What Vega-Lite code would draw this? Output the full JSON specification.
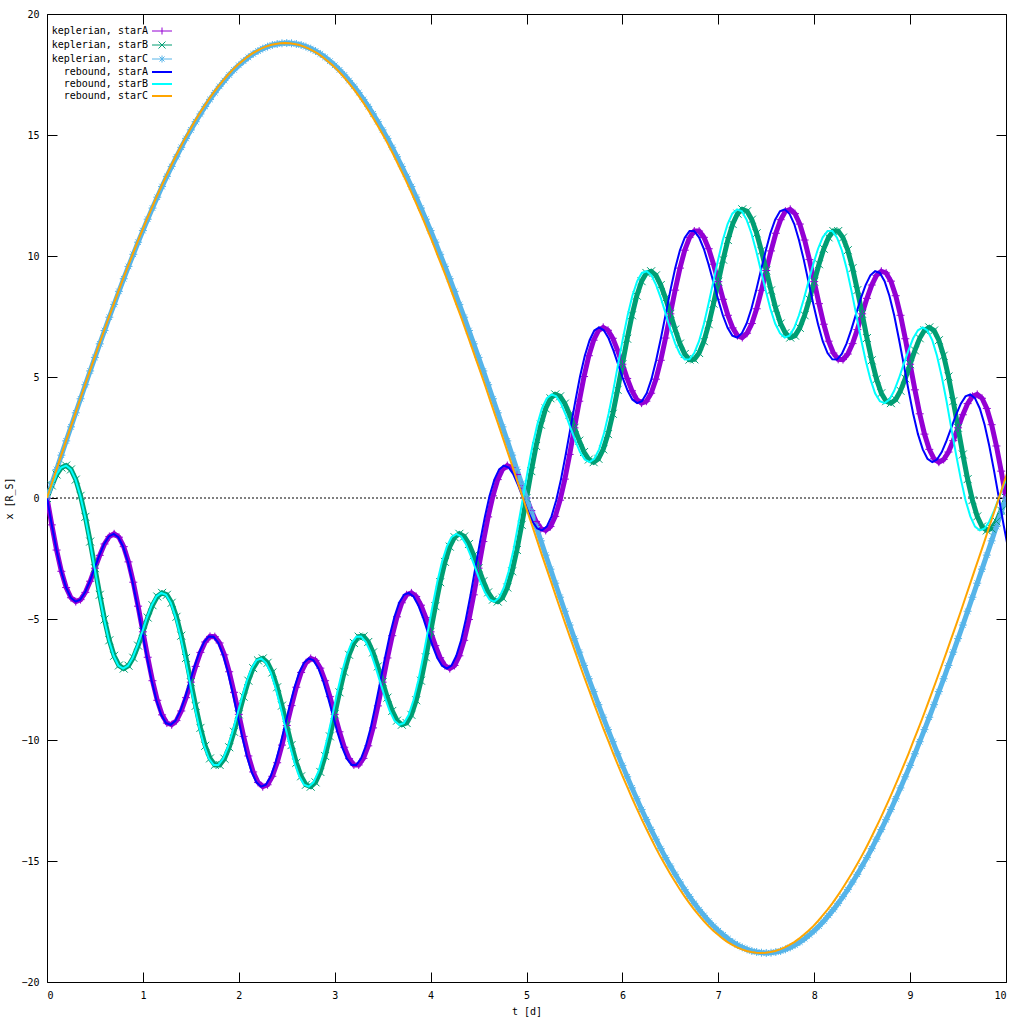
{
"$schema":"https://vega.github.io/schema/vega-lite/v6.json",
"width":959,"height":968,
"autosize":{"type":"none"},
"padding":{"left":47,"top":14,"right":18,"bottom":42},
"background":"white",
"config":{
"view":{"stroke":"black","strokeWidth":1},
"font":"DejaVu Sans Mono",
"axis":{"grid":false,"domain":false,"tickColor":"black","tickSize":-10,"tickWidth":1,"labelFont":"DejaVu Sans Mono","labelFontSize":10,"labelColor":"black","titleFont":"DejaVu Sans Mono","titleFontSize":10,"titleFontWeight":"normal","titleColor":"black","labelPadding":18},
"legend":{"orient":"none","legendX":110,"legendY":12,"padding":0,"title":null,"labelFont":"DejaVu Sans Mono","labelFontSize":10,"labelColor":"black","symbolSize":100,"rowPadding":2,"labelAlign":"right","labelOffset":-19,"labelLimit":0}
},
"data":{"values":[
{"t":0,"tr":0,"kA":0,"kB":0,"kC":0,"rA":0,"rB":0,"rC":0},
{"t":0.05,"tr":0.05,"kA":-1.11,"kB":0.52,"kC":0.59,"rA":-1.11,"rB":0.52,"rC":0.59},
{"t":0.1,"tr":0.099,"kA":-2.15,"kB":0.97,"kC":1.18,"rA":-2.15,"rB":0.97,"rC":1.18},
{"t":0.15,"tr":0.149,"kA":-3.03,"kB":1.26,"kC":1.77,"rA":-3.03,"rB":1.26,"rC":1.77},
{"t":0.2,"tr":0.199,"kA":-3.7,"kB":1.34,"kC":2.36,"rA":-3.7,"rB":1.34,"rC":2.36},
{"t":0.25,"tr":0.248,"kA":-4.12,"kB":1.18,"kC":2.94,"rA":-4.12,"rB":1.18,"rC":2.94},
{"t":0.3,"tr":0.298,"kA":-4.28,"kB":0.76,"kC":3.52,"rA":-4.28,"rB":0.76,"rC":3.52},
{"t":0.35,"tr":0.347,"kA":-4.2,"kB":0.09,"kC":4.1,"rA":-4.2,"rB":0.09,"rC":4.1},
{"t":0.4,"tr":0.397,"kA":-3.9,"kB":-0.78,"kC":4.68,"rA":-3.9,"rB":-0.78,"rC":4.68},
{"t":0.45,"tr":0.447,"kA":-3.44,"kB":-1.8,"kC":5.25,"rA":-3.44,"rB":-1.8,"rC":5.25},
{"t":0.5,"tr":0.496,"kA":-2.9,"kB":-2.9,"kC":5.81,"rA":-2.9,"rB":-2.9,"rC":5.81},
{"t":0.55,"tr":0.546,"kA":-2.37,"kB":-4,"kC":6.37,"rA":-2.37,"rB":-4,"rC":6.37},
{"t":0.6,"tr":0.596,"kA":-1.9,"kB":-5.02,"kC":6.92,"rA":-1.9,"rB":-5.02,"rC":6.92},
{"t":0.65,"tr":0.645,"kA":-1.59,"kB":-5.88,"kC":7.47,"rA":-1.59,"rB":-5.88,"rC":7.47},
{"t":0.7,"tr":0.695,"kA":-1.48,"kB":-6.52,"kC":8,"rA":-1.48,"rB":-6.52,"rC":8},
{"t":0.75,"tr":0.744,"kA":-1.62,"kB":-6.92,"kC":8.54,"rA":-1.62,"rB":-6.92,"rC":8.54},
{"t":0.8,"tr":0.794,"kA":-2.01,"kB":-7.05,"kC":9.06,"rA":-2.01,"rB":-7.05,"rC":9.06},
{"t":0.85,"tr":0.844,"kA":-2.64,"kB":-6.93,"kC":9.57,"rA":-2.64,"rB":-6.93,"rC":9.57},
{"t":0.9,"tr":0.893,"kA":-3.48,"kB":-6.6,"kC":10.07,"rA":-3.48,"rB":-6.6,"rC":10.07},
{"t":0.95,"tr":0.943,"kA":-4.47,"kB":-6.1,"kC":10.57,"rA":-4.47,"rB":-6.1,"rC":10.57},
{"t":1,"tr":0.993,"kA":-5.53,"kB":-5.53,"kC":11.05,"rA":-5.53,"rB":-5.53,"rC":11.05},
{"t":1.05,"tr":1.042,"kA":-6.58,"kB":-4.94,"kC":11.52,"rA":-6.58,"rB":-4.94,"rC":11.52},
{"t":1.1,"tr":1.092,"kA":-7.55,"kB":-4.43,"kC":11.98,"rA":-7.55,"rB":-4.43,"rC":11.98},
{"t":1.15,"tr":1.141,"kA":-8.36,"kB":-4.07,"kC":12.43,"rA":-8.36,"rB":-4.07,"rC":12.43},
{"t":1.2,"tr":1.191,"kA":-8.96,"kB":-3.92,"kC":12.87,"rA":-8.96,"rB":-3.92,"rC":12.87},
{"t":1.25,"tr":1.241,"kA":-9.3,"kB":-4,"kC":13.29,"rA":-9.3,"rB":-4,"rC":13.29},
{"t":1.3,"tr":1.29,"kA":-9.37,"kB":-4.33,"kC":13.7,"rA":-9.37,"rB":-4.33,"rC":13.7},
{"t":1.35,"tr":1.34,"kA":-9.2,"kB":-4.91,"kC":14.1,"rA":-9.2,"rB":-4.91,"rC":14.1},
{"t":1.4,"tr":1.39,"kA":-8.8,"kB":-5.69,"kC":14.49,"rA":-8.8,"rB":-5.69,"rC":14.49},
{"t":1.45,"tr":1.439,"kA":-8.25,"kB":-6.61,"kC":14.86,"rA":-8.25,"rB":-6.61,"rC":14.86},
{"t":1.5,"tr":1.489,"kA":-7.61,"kB":-7.61,"kC":15.21,"rA":-7.61,"rB":-7.61,"rC":15.21},
{"t":1.55,"tr":1.538,"kA":-6.96,"kB":-8.59,"kC":15.55,"rA":-6.96,"rB":-8.59,"rC":15.55},
{"t":1.6,"tr":1.588,"kA":-6.38,"kB":-9.5,"kC":15.87,"rA":-6.38,"rB":-9.5,"rC":15.87},
{"t":1.65,"tr":1.638,"kA":-5.95,"kB":-10.24,"kC":16.18,"rA":-5.95,"rB":-10.24,"rC":16.18},
{"t":1.7,"tr":1.687,"kA":-5.72,"kB":-10.76,"kC":16.47,"rA":-5.72,"rB":-10.76,"rC":16.47},
{"t":1.75,"tr":1.737,"kA":-5.73,"kB":-11.03,"kC":16.75,"rA":-5.73,"rB":-11.03,"rC":16.75},
{"t":1.8,"tr":1.787,"kA":-5.99,"kB":-11.03,"kC":17.01,"rA":-5.99,"rB":-11.03,"rC":17.01},
{"t":1.85,"tr":1.836,"kA":-6.48,"kB":-10.77,"kC":17.25,"rA":-6.48,"rB":-10.77,"rC":17.25},
{"t":1.9,"tr":1.886,"kA":-7.18,"kB":-10.3,"kC":17.48,"rA":-7.18,"rB":-10.3,"rC":17.48},
{"t":1.95,"tr":1.935,"kA":-8.03,"kB":-9.66,"kC":17.69,"rA":-8.03,"rB":-9.66,"rC":17.69},
{"t":2,"tr":1.985,"kA":-8.94,"kB":-8.94,"kC":17.88,"rA":-8.94,"rB":-8.94,"rC":17.88},
{"t":2.05,"tr":2.035,"kA":-9.85,"kB":-8.21,"kC":18.05,"rA":-9.85,"rB":-8.21,"rC":18.05},
{"t":2.1,"tr":2.084,"kA":-10.66,"kB":-7.55,"kC":18.21,"rA":-10.66,"rB":-7.55,"rC":18.21},
{"t":2.15,"tr":2.134,"kA":-11.32,"kB":-7.03,"kC":18.35,"rA":-11.32,"rB":-7.03,"rC":18.35},
{"t":2.2,"tr":2.184,"kA":-11.75,"kB":-6.71,"kC":18.47,"rA":-11.75,"rB":-6.71,"rC":18.47},
{"t":2.25,"tr":2.233,"kA":-11.93,"kB":-6.63,"kC":18.57,"rA":-11.93,"rB":-6.63,"rC":18.57},
{"t":2.3,"tr":2.283,"kA":-11.85,"kB":-6.81,"kC":18.65,"rA":-11.85,"rB":-6.81,"rC":18.65},
{"t":2.35,"tr":2.333,"kA":-11.5,"kB":-7.21,"kC":18.72,"rA":-11.5,"rB":-7.21,"rC":18.72},
{"t":2.4,"tr":2.382,"kA":-10.94,"kB":-7.82,"kC":18.76,"rA":-10.94,"rB":-7.82,"rC":18.76},
{"t":2.45,"tr":2.432,"kA":-10.21,"kB":-8.58,"kC":18.79,"rA":-10.21,"rB":-8.58,"rC":18.79},
{"t":2.5,"tr":2.481,"kA":-9.4,"kB":-9.4,"kC":18.8,"rA":-9.4,"rB":-9.4,"rC":18.8},
{"t":2.55,"tr":2.531,"kA":-8.58,"kB":-10.21,"kC":18.79,"rA":-8.58,"rB":-10.21,"rC":18.79},
{"t":2.6,"tr":2.581,"kA":-7.82,"kB":-10.94,"kC":18.76,"rA":-7.82,"rB":-10.94,"rC":18.76},
{"t":2.65,"tr":2.63,"kA":-7.21,"kB":-11.5,"kC":18.72,"rA":-7.21,"rB":-11.5,"rC":18.72},
{"t":2.7,"tr":2.68,"kA":-6.81,"kB":-11.85,"kC":18.65,"rA":-6.81,"rB":-11.85,"rC":18.65},
{"t":2.75,"tr":2.73,"kA":-6.63,"kB":-11.93,"kC":18.57,"rA":-6.63,"rB":-11.93,"rC":18.57},
{"t":2.8,"tr":2.779,"kA":-6.71,"kB":-11.75,"kC":18.47,"rA":-6.71,"rB":-11.75,"rC":18.47},
{"t":2.85,"tr":2.829,"kA":-7.03,"kB":-11.32,"kC":18.35,"rA":-7.03,"rB":-11.32,"rC":18.35},
{"t":2.9,"tr":2.878,"kA":-7.55,"kB":-10.66,"kC":18.21,"rA":-7.55,"rB":-10.66,"rC":18.21},
{"t":2.95,"tr":2.928,"kA":-8.21,"kB":-9.85,"kC":18.05,"rA":-8.21,"rB":-9.85,"rC":18.05},
{"t":3,"tr":2.978,"kA":-8.94,"kB":-8.94,"kC":17.88,"rA":-8.94,"rB":-8.94,"rC":17.88},
{"t":3.05,"tr":3.027,"kA":-9.66,"kB":-8.03,"kC":17.69,"rA":-9.66,"rB":-8.03,"rC":17.69},
{"t":3.1,"tr":3.077,"kA":-10.3,"kB":-7.18,"kC":17.48,"rA":-10.3,"rB":-7.18,"rC":17.48},
{"t":3.15,"tr":3.127,"kA":-10.77,"kB":-6.48,"kC":17.25,"rA":-10.77,"rB":-6.48,"rC":17.25},
{"t":3.2,"tr":3.176,"kA":-11.03,"kB":-5.99,"kC":17.01,"rA":-11.03,"rB":-5.99,"rC":17.01},
{"t":3.25,"tr":3.226,"kA":-11.03,"kB":-5.73,"kC":16.75,"rA":-11.03,"rB":-5.73,"rC":16.75},
{"t":3.3,"tr":3.275,"kA":-10.76,"kB":-5.72,"kC":16.47,"rA":-10.76,"rB":-5.72,"rC":16.47},
{"t":3.35,"tr":3.325,"kA":-10.24,"kB":-5.95,"kC":16.18,"rA":-10.24,"rB":-5.95,"rC":16.18},
{"t":3.4,"tr":3.375,"kA":-9.5,"kB":-6.38,"kC":15.87,"rA":-9.5,"rB":-6.38,"rC":15.87},
{"t":3.45,"tr":3.424,"kA":-8.59,"kB":-6.96,"kC":15.55,"rA":-8.59,"rB":-6.96,"rC":15.55},
{"t":3.5,"tr":3.474,"kA":-7.61,"kB":-7.61,"kC":15.21,"rA":-7.61,"rB":-7.61,"rC":15.21},
{"t":3.55,"tr":3.524,"kA":-6.61,"kB":-8.25,"kC":14.86,"rA":-6.61,"rB":-8.25,"rC":14.86},
{"t":3.6,"tr":3.573,"kA":-5.69,"kB":-8.8,"kC":14.49,"rA":-5.69,"rB":-8.8,"rC":14.49},
{"t":3.65,"tr":3.623,"kA":-4.91,"kB":-9.2,"kC":14.1,"rA":-4.91,"rB":-9.2,"rC":14.1},
{"t":3.7,"tr":3.672,"kA":-4.33,"kB":-9.37,"kC":13.7,"rA":-4.33,"rB":-9.37,"rC":13.7},
{"t":3.75,"tr":3.722,"kA":-4,"kB":-9.3,"kC":13.29,"rA":-4,"rB":-9.3,"rC":13.29},
{"t":3.8,"tr":3.772,"kA":-3.92,"kB":-8.96,"kC":12.87,"rA":-3.92,"rB":-8.96,"rC":12.87},
{"t":3.85,"tr":3.821,"kA":-4.07,"kB":-8.36,"kC":12.43,"rA":-4.07,"rB":-8.36,"rC":12.43},
{"t":3.9,"tr":3.871,"kA":-4.43,"kB":-7.55,"kC":11.98,"rA":-4.43,"rB":-7.55,"rC":11.98},
{"t":3.95,"tr":3.921,"kA":-4.94,"kB":-6.58,"kC":11.52,"rA":-4.94,"rB":-6.58,"rC":11.52},
{"t":4,"tr":3.97,"kA":-5.53,"kB":-5.53,"kC":11.05,"rA":-5.53,"rB":-5.53,"rC":11.05},
{"t":4.05,"tr":4.02,"kA":-6.1,"kB":-4.47,"kC":10.57,"rA":-6.1,"rB":-4.47,"rC":10.57},
{"t":4.1,"tr":4.069,"kA":-6.6,"kB":-3.48,"kC":10.07,"rA":-6.6,"rB":-3.48,"rC":10.07},
{"t":4.15,"tr":4.119,"kA":-6.93,"kB":-2.64,"kC":9.57,"rA":-6.93,"rB":-2.64,"rC":9.57},
{"t":4.2,"tr":4.169,"kA":-7.05,"kB":-2.01,"kC":9.06,"rA":-7.05,"rB":-2.01,"rC":9.06},
{"t":4.25,"tr":4.218,"kA":-6.92,"kB":-1.62,"kC":8.54,"rA":-6.92,"rB":-1.62,"rC":8.54},
{"t":4.3,"tr":4.268,"kA":-6.52,"kB":-1.48,"kC":8,"rA":-6.52,"rB":-1.48,"rC":8},
{"t":4.35,"tr":4.318,"kA":-5.88,"kB":-1.59,"kC":7.47,"rA":-5.88,"rB":-1.59,"rC":7.47},
{"t":4.4,"tr":4.367,"kA":-5.02,"kB":-1.9,"kC":6.92,"rA":-5.02,"rB":-1.9,"rC":6.92},
{"t":4.45,"tr":4.417,"kA":-4,"kB":-2.37,"kC":6.37,"rA":-4,"rB":-2.37,"rC":6.37},
{"t":4.5,"tr":4.466,"kA":-2.9,"kB":-2.9,"kC":5.81,"rA":-2.9,"rB":-2.9,"rC":5.81},
{"t":4.55,"tr":4.516,"kA":-1.8,"kB":-3.44,"kC":5.25,"rA":-1.8,"rB":-3.44,"rC":5.25},
{"t":4.6,"tr":4.566,"kA":-0.78,"kB":-3.9,"kC":4.68,"rA":-0.78,"rB":-3.9,"rC":4.68},
{"t":4.65,"tr":4.615,"kA":0.09,"kB":-4.2,"kC":4.1,"rA":0.09,"rB":-4.2,"rC":4.1},
{"t":4.7,"tr":4.665,"kA":0.76,"kB":-4.28,"kC":3.52,"rA":0.76,"rB":-4.28,"rC":3.52},
{"t":4.75,"tr":4.715,"kA":1.18,"kB":-4.12,"kC":2.94,"rA":1.18,"rB":-4.12,"rC":2.94},
{"t":4.8,"tr":4.764,"kA":1.34,"kB":-3.7,"kC":2.36,"rA":1.34,"rB":-3.7,"rC":2.36},
{"t":4.85,"tr":4.814,"kA":1.26,"kB":-3.03,"kC":1.77,"rA":1.26,"rB":-3.03,"rC":1.77},
{"t":4.9,"tr":4.864,"kA":0.97,"kB":-2.15,"kC":1.18,"rA":0.97,"rB":-2.15,"rC":1.18},
{"t":4.95,"tr":4.913,"kA":0.52,"kB":-1.11,"kC":0.59,"rA":0.52,"rB":-1.11,"rC":0.59},
{"t":5,"tr":4.963,"kA":0,"kB":0,"kC":0,"rA":0,"rB":0,"rC":0},
{"t":5.05,"tr":5.012,"kA":-0.52,"kB":1.11,"kC":-0.59,"rA":-0.52,"rB":1.11,"rC":-0.59},
{"t":5.1,"tr":5.062,"kA":-0.97,"kB":2.15,"kC":-1.18,"rA":-0.97,"rB":2.15,"rC":-1.18},
{"t":5.15,"tr":5.112,"kA":-1.26,"kB":3.03,"kC":-1.77,"rA":-1.26,"rB":3.03,"rC":-1.77},
{"t":5.2,"tr":5.161,"kA":-1.34,"kB":3.7,"kC":-2.36,"rA":-1.34,"rB":3.7,"rC":-2.36},
{"t":5.25,"tr":5.211,"kA":-1.18,"kB":4.12,"kC":-2.94,"rA":-1.18,"rB":4.12,"rC":-2.94},
{"t":5.3,"tr":5.261,"kA":-0.76,"kB":4.28,"kC":-3.52,"rA":-0.76,"rB":4.28,"rC":-3.52},
{"t":5.35,"tr":5.31,"kA":-0.09,"kB":4.2,"kC":-4.1,"rA":-0.09,"rB":4.2,"rC":-4.1},
{"t":5.4,"tr":5.36,"kA":0.78,"kB":3.9,"kC":-4.68,"rA":0.78,"rB":3.9,"rC":-4.68},
{"t":5.45,"tr":5.409,"kA":1.8,"kB":3.44,"kC":-5.25,"rA":1.8,"rB":3.44,"rC":-5.25},
{"t":5.5,"tr":5.459,"kA":2.9,"kB":2.9,"kC":-5.81,"rA":2.9,"rB":2.9,"rC":-5.81},
{"t":5.55,"tr":5.509,"kA":4,"kB":2.37,"kC":-6.37,"rA":4,"rB":2.37,"rC":-6.37},
{"t":5.6,"tr":5.558,"kA":5.02,"kB":1.9,"kC":-6.92,"rA":5.02,"rB":1.9,"rC":-6.92},
{"t":5.65,"tr":5.608,"kA":5.88,"kB":1.59,"kC":-7.47,"rA":5.88,"rB":1.59,"rC":-7.47},
{"t":5.7,"tr":5.658,"kA":6.52,"kB":1.48,"kC":-8,"rA":6.52,"rB":1.48,"rC":-8},
{"t":5.75,"tr":5.707,"kA":6.92,"kB":1.62,"kC":-8.54,"rA":6.92,"rB":1.62,"rC":-8.54},
{"t":5.8,"tr":5.757,"kA":7.05,"kB":2.01,"kC":-9.06,"rA":7.05,"rB":2.01,"rC":-9.06},
{"t":5.85,"tr":5.806,"kA":6.93,"kB":2.64,"kC":-9.57,"rA":6.93,"rB":2.64,"rC":-9.57},
{"t":5.9,"tr":5.856,"kA":6.6,"kB":3.48,"kC":-10.07,"rA":6.6,"rB":3.48,"rC":-10.07},
{"t":5.95,"tr":5.906,"kA":6.1,"kB":4.47,"kC":-10.57,"rA":6.1,"rB":4.47,"rC":-10.57},
{"t":6,"tr":5.955,"kA":5.53,"kB":5.53,"kC":-11.05,"rA":5.53,"rB":5.53,"rC":-11.05},
{"t":6.05,"tr":6.005,"kA":4.94,"kB":6.58,"kC":-11.52,"rA":4.94,"rB":6.58,"rC":-11.52},
{"t":6.1,"tr":6.055,"kA":4.43,"kB":7.55,"kC":-11.98,"rA":4.43,"rB":7.55,"rC":-11.98},
{"t":6.15,"tr":6.104,"kA":4.07,"kB":8.36,"kC":-12.43,"rA":4.07,"rB":8.36,"rC":-12.43},
{"t":6.2,"tr":6.154,"kA":3.92,"kB":8.96,"kC":-12.87,"rA":3.92,"rB":8.96,"rC":-12.87},
{"t":6.25,"tr":6.203,"kA":4,"kB":9.3,"kC":-13.29,"rA":4,"rB":9.3,"rC":-13.29},
{"t":6.3,"tr":6.253,"kA":4.33,"kB":9.37,"kC":-13.7,"rA":4.33,"rB":9.37,"rC":-13.7},
{"t":6.35,"tr":6.303,"kA":4.91,"kB":9.2,"kC":-14.1,"rA":4.91,"rB":9.2,"rC":-14.1},
{"t":6.4,"tr":6.352,"kA":5.69,"kB":8.8,"kC":-14.49,"rA":5.69,"rB":8.8,"rC":-14.49},
{"t":6.45,"tr":6.402,"kA":6.61,"kB":8.25,"kC":-14.86,"rA":6.61,"rB":8.25,"rC":-14.86},
{"t":6.5,"tr":6.452,"kA":7.61,"kB":7.61,"kC":-15.21,"rA":7.61,"rB":7.61,"rC":-15.21},
{"t":6.55,"tr":6.501,"kA":8.59,"kB":6.96,"kC":-15.55,"rA":8.59,"rB":6.96,"rC":-15.55},
{"t":6.6,"tr":6.551,"kA":9.5,"kB":6.38,"kC":-15.87,"rA":9.5,"rB":6.38,"rC":-15.87},
{"t":6.65,"tr":6.6,"kA":10.24,"kB":5.95,"kC":-16.18,"rA":10.24,"rB":5.95,"rC":-16.18},
{"t":6.7,"tr":6.65,"kA":10.76,"kB":5.72,"kC":-16.47,"rA":10.76,"rB":5.72,"rC":-16.47},
{"t":6.75,"tr":6.7,"kA":11.03,"kB":5.73,"kC":-16.75,"rA":11.03,"rB":5.73,"rC":-16.75},
{"t":6.8,"tr":6.749,"kA":11.03,"kB":5.99,"kC":-17.01,"rA":11.03,"rB":5.99,"rC":-17.01},
{"t":6.85,"tr":6.799,"kA":10.77,"kB":6.48,"kC":-17.25,"rA":10.77,"rB":6.48,"rC":-17.25},
{"t":6.9,"tr":6.849,"kA":10.3,"kB":7.18,"kC":-17.48,"rA":10.3,"rB":7.18,"rC":-17.48},
{"t":6.95,"tr":6.898,"kA":9.66,"kB":8.03,"kC":-17.69,"rA":9.66,"rB":8.03,"rC":-17.69},
{"t":7,"tr":6.948,"kA":8.94,"kB":8.94,"kC":-17.88,"rA":8.94,"rB":8.94,"rC":-17.88},
{"t":7.05,"tr":6.998,"kA":8.21,"kB":9.85,"kC":-18.05,"rA":8.21,"rB":9.85,"rC":-18.05},
{"t":7.1,"tr":7.047,"kA":7.55,"kB":10.66,"kC":-18.21,"rA":7.55,"rB":10.66,"rC":-18.21},
{"t":7.15,"tr":7.097,"kA":7.03,"kB":11.32,"kC":-18.35,"rA":7.03,"rB":11.32,"rC":-18.35},
{"t":7.2,"tr":7.146,"kA":6.71,"kB":11.75,"kC":-18.47,"rA":6.71,"rB":11.75,"rC":-18.47},
{"t":7.25,"tr":7.196,"kA":6.63,"kB":11.93,"kC":-18.57,"rA":6.63,"rB":11.93,"rC":-18.57},
{"t":7.3,"tr":7.246,"kA":6.81,"kB":11.85,"kC":-18.65,"rA":6.81,"rB":11.85,"rC":-18.65},
{"t":7.35,"tr":7.295,"kA":7.21,"kB":11.5,"kC":-18.72,"rA":7.21,"rB":11.5,"rC":-18.72},
{"t":7.4,"tr":7.345,"kA":7.82,"kB":10.94,"kC":-18.76,"rA":7.82,"rB":10.94,"rC":-18.76},
{"t":7.45,"tr":7.395,"kA":8.58,"kB":10.21,"kC":-18.79,"rA":8.58,"rB":10.21,"rC":-18.79},
{"t":7.5,"tr":7.444,"kA":9.4,"kB":9.4,"kC":-18.8,"rA":9.4,"rB":9.4,"rC":-18.8},
{"t":7.55,"tr":7.494,"kA":10.21,"kB":8.58,"kC":-18.79,"rA":10.21,"rB":8.58,"rC":-18.79},
{"t":7.6,"tr":7.543,"kA":10.94,"kB":7.82,"kC":-18.76,"rA":10.94,"rB":7.82,"rC":-18.76},
{"t":7.65,"tr":7.593,"kA":11.5,"kB":7.21,"kC":-18.72,"rA":11.5,"rB":7.21,"rC":-18.72},
{"t":7.7,"tr":7.643,"kA":11.85,"kB":6.81,"kC":-18.65,"rA":11.85,"rB":6.81,"rC":-18.65},
{"t":7.75,"tr":7.692,"kA":11.93,"kB":6.63,"kC":-18.57,"rA":11.93,"rB":6.63,"rC":-18.57},
{"t":7.8,"tr":7.742,"kA":11.75,"kB":6.71,"kC":-18.47,"rA":11.75,"rB":6.71,"rC":-18.47},
{"t":7.85,"tr":7.792,"kA":11.32,"kB":7.03,"kC":-18.35,"rA":11.32,"rB":7.03,"rC":-18.35},
{"t":7.9,"tr":7.841,"kA":10.66,"kB":7.55,"kC":-18.21,"rA":10.66,"rB":7.55,"rC":-18.21},
{"t":7.95,"tr":7.891,"kA":9.85,"kB":8.21,"kC":-18.05,"rA":9.85,"rB":8.21,"rC":-18.05},
{"t":8,"tr":7.94,"kA":8.94,"kB":8.94,"kC":-17.88,"rA":8.94,"rB":8.94,"rC":-17.88},
{"t":8.05,"tr":7.99,"kA":8.03,"kB":9.66,"kC":-17.69,"rA":8.03,"rB":9.66,"rC":-17.69},
{"t":8.1,"tr":8.04,"kA":7.18,"kB":10.3,"kC":-17.48,"rA":7.18,"rB":10.3,"rC":-17.48},
{"t":8.15,"tr":8.089,"kA":6.48,"kB":10.77,"kC":-17.25,"rA":6.48,"rB":10.77,"rC":-17.25},
{"t":8.2,"tr":8.139,"kA":5.99,"kB":11.03,"kC":-17.01,"rA":5.99,"rB":11.03,"rC":-17.01},
{"t":8.25,"tr":8.189,"kA":5.73,"kB":11.03,"kC":-16.75,"rA":5.73,"rB":11.03,"rC":-16.75},
{"t":8.3,"tr":8.238,"kA":5.72,"kB":10.76,"kC":-16.47,"rA":5.72,"rB":10.76,"rC":-16.47},
{"t":8.35,"tr":8.288,"kA":5.95,"kB":10.24,"kC":-16.18,"rA":5.95,"rB":10.24,"rC":-16.18},
{"t":8.4,"tr":8.337,"kA":6.38,"kB":9.5,"kC":-15.87,"rA":6.38,"rB":9.5,"rC":-15.87},
{"t":8.45,"tr":8.387,"kA":6.96,"kB":8.59,"kC":-15.55,"rA":6.96,"rB":8.59,"rC":-15.55},
{"t":8.5,"tr":8.437,"kA":7.61,"kB":7.61,"kC":-15.21,"rA":7.61,"rB":7.61,"rC":-15.21},
{"t":8.55,"tr":8.486,"kA":8.25,"kB":6.61,"kC":-14.86,"rA":8.25,"rB":6.61,"rC":-14.86},
{"t":8.6,"tr":8.536,"kA":8.8,"kB":5.69,"kC":-14.49,"rA":8.8,"rB":5.69,"rC":-14.49},
{"t":8.65,"tr":8.586,"kA":9.2,"kB":4.91,"kC":-14.1,"rA":9.2,"rB":4.91,"rC":-14.1},
{"t":8.7,"tr":8.635,"kA":9.37,"kB":4.33,"kC":-13.7,"rA":9.37,"rB":4.33,"rC":-13.7},
{"t":8.75,"tr":8.685,"kA":9.3,"kB":4,"kC":-13.29,"rA":9.3,"rB":4,"rC":-13.29},
{"t":8.8,"tr":8.734,"kA":8.96,"kB":3.92,"kC":-12.87,"rA":8.96,"rB":3.92,"rC":-12.87},
{"t":8.85,"tr":8.784,"kA":8.36,"kB":4.07,"kC":-12.43,"rA":8.36,"rB":4.07,"rC":-12.43},
{"t":8.9,"tr":8.834,"kA":7.55,"kB":4.43,"kC":-11.98,"rA":7.55,"rB":4.43,"rC":-11.98},
{"t":8.95,"tr":8.883,"kA":6.58,"kB":4.94,"kC":-11.52,"rA":6.58,"rB":4.94,"rC":-11.52},
{"t":9,"tr":8.933,"kA":5.53,"kB":5.53,"kC":-11.05,"rA":5.53,"rB":5.53,"rC":-11.05},
{"t":9.05,"tr":8.983,"kA":4.47,"kB":6.1,"kC":-10.57,"rA":4.47,"rB":6.1,"rC":-10.57},
{"t":9.1,"tr":9.032,"kA":3.48,"kB":6.6,"kC":-10.07,"rA":3.48,"rB":6.6,"rC":-10.07},
{"t":9.15,"tr":9.082,"kA":2.64,"kB":6.93,"kC":-9.57,"rA":2.64,"rB":6.93,"rC":-9.57},
{"t":9.2,"tr":9.132,"kA":2.01,"kB":7.05,"kC":-9.06,"rA":2.01,"rB":7.05,"rC":-9.06},
{"t":9.25,"tr":9.181,"kA":1.62,"kB":6.92,"kC":-8.54,"rA":1.62,"rB":6.92,"rC":-8.54},
{"t":9.3,"tr":9.231,"kA":1.48,"kB":6.52,"kC":-8,"rA":1.48,"rB":6.52,"rC":-8},
{"t":9.35,"tr":9.28,"kA":1.59,"kB":5.88,"kC":-7.47,"rA":1.59,"rB":5.88,"rC":-7.47},
{"t":9.4,"tr":9.33,"kA":1.9,"kB":5.02,"kC":-6.92,"rA":1.9,"rB":5.02,"rC":-6.92},
{"t":9.45,"tr":9.38,"kA":2.37,"kB":4,"kC":-6.37,"rA":2.37,"rB":4,"rC":-6.37},
{"t":9.5,"tr":9.429,"kA":2.9,"kB":2.9,"kC":-5.81,"rA":2.9,"rB":2.9,"rC":-5.81},
{"t":9.55,"tr":9.479,"kA":3.44,"kB":1.8,"kC":-5.25,"rA":3.44,"rB":1.8,"rC":-5.25},
{"t":9.6,"tr":9.529,"kA":3.9,"kB":0.78,"kC":-4.68,"rA":3.9,"rB":0.78,"rC":-4.68},
{"t":9.65,"tr":9.578,"kA":4.2,"kB":-0.09,"kC":-4.1,"rA":4.2,"rB":-0.09,"rC":-4.1},
{"t":9.7,"tr":9.628,"kA":4.28,"kB":-0.76,"kC":-3.52,"rA":4.28,"rB":-0.76,"rC":-3.52},
{"t":9.75,"tr":9.677,"kA":4.12,"kB":-1.18,"kC":-2.94,"rA":4.12,"rB":-1.18,"rC":-2.94},
{"t":9.8,"tr":9.727,"kA":3.7,"kB":-1.34,"kC":-2.36,"rA":3.7,"rB":-1.34,"rC":-2.36},
{"t":9.85,"tr":9.777,"kA":3.03,"kB":-1.26,"kC":-1.77,"rA":3.03,"rB":-1.26,"rC":-1.77},
{"t":9.9,"tr":9.826,"kA":2.15,"kB":-0.97,"kC":-1.18,"rA":2.15,"rB":-0.97,"rC":-1.18},
{"t":9.95,"tr":9.876,"kA":1.11,"kB":-0.52,"kC":-0.59,"rA":1.11,"rB":-0.52,"rC":-0.59},
{"t":10,"tr":9.926,"kA":0,"kB":0,"kC":0,"rA":0,"rB":0,"rC":0},
{"t":10.05,"tr":9.975,"kA":-1.11,"kB":0.52,"kC":0.59,"rA":-1.11,"rB":0.52,"rC":0.59},
{"t":10.1,"tr":10.025,"kA":-2.15,"kB":0.97,"kC":1.18,"rA":-2.15,"rB":0.97,"rC":1.18}
]},
"layer":[
{"data":{"values":[{}]},
 "mark":{"type":"rule","color":"black","strokeWidth":1,"strokeDash":[2,2]},
 "encoding":{"y":{"datum":0,"type":"quantitative","scale":{"domain":[-20,20],"nice":false,"zero":false},"axis":null}}},
{"transform":[{"filter":"datum.t <= 10"},{"fold":["kA","kB","kC"],"as":["s","v"]}],
 "mark":{"type":"line","strokeWidth":5,"clip":true},
 "encoding":{
  "x":{"field":"t","type":"quantitative","scale":{"domain":[0,10],"nice":false,"zero":false},"axis":{"orient":"bottom","values":[0,1,2,3,4,5,6,7,8,9,10],"format":"d","title":"t [d]","titlePadding":6}},
  "y":{"field":"v","type":"quantitative","scale":{"domain":[-20,20],"nice":false,"zero":false},"axis":{"orient":"left","values":[-20,-15,-10,-5,0,5,10,15,20],"format":"d","title":"x [R_S]","titlePadding":6}},
  "color":{"field":"s","type":"nominal","scale":{"domain":["kA","kB","kC","rA","rB","rC"],"range":["#9400d3","#009e73","#56b4e9","#0000ff","#00ffff","#ffa500"]},
   "legend":{"title":null,"labelExpr":"datum.label=='kA'?'keplerian, starA':datum.label=='kB'?'keplerian, starB':datum.label=='kC'?'keplerian, starC':datum.label=='rA'?'rebound, starA':datum.label=='rB'?'rebound, starB':'rebound, starC'",
    "encode":{"symbols":{"update":{"shape":{"signal":"datum.value=='kA'?'M-2,0H2M0,-0.7V0.7':datum.value=='kB'?'M-2,0H2M-0.7,-0.7L0.7,0.7M-0.7,0.7L0.7,-0.7':datum.value=='kC'?'M-2,0H2M0,-0.7V0.7M-0.5,-0.5L0.5,0.5M-0.5,0.5L0.5,-0.5':'M-2,0H2'"},"strokeWidth":{"signal":"datum.value=='kA'||datum.value=='kB'||datum.value=='kC'?1:2"},"fill":{"value":"transparent"}}}}}},
  "detail":{"field":"s"}
 }},
{"transform":[{"filter":"datum.t <= 10"},{"fold":["kA","kB","kC"],"as":["s","v"]}],
 "mark":{"type":"point","filled":false,"strokeWidth":1,"size":64,"opacity":1,"clip":true},
 "encoding":{
  "x":{"field":"t","type":"quantitative","axis":null},
  "y":{"field":"v","type":"quantitative","axis":null},
  "color":{"field":"s","type":"nominal","legend":{"title":null}},
  "shape":{"field":"s","type":"nominal","scale":{"domain":["kA","kB","kC"],"range":["M-1,0H1M0,-1V1","M-1,-1L1,1M-1,1L1,-1","M-1,0H1M0,-1V1M-0.7,-0.7L0.7,0.7M-0.7,0.7L0.7,-0.7"]},"legend":null}
 }},
{"transform":[{"fold":["rA","rB","rC"],"as":["s","v"]}],
 "mark":{"type":"line","strokeWidth":2,"clip":true},
 "encoding":{
  "x":{"field":"tr","type":"quantitative","axis":{"orient":"top","values":[0,1,2,3,4,5,6,7,8,9,10],"labels":false,"title":null}},
  "y":{"field":"v","type":"quantitative","axis":{"orient":"right","values":[-20,-15,-10,-5,0,5,10,15,20],"labels":false,"title":null}},
  "color":{"field":"s","type":"nominal","legend":{"title":null}}
 }}
],
"resolve":{"axis":{"x":"independent","y":"independent"}}
}
